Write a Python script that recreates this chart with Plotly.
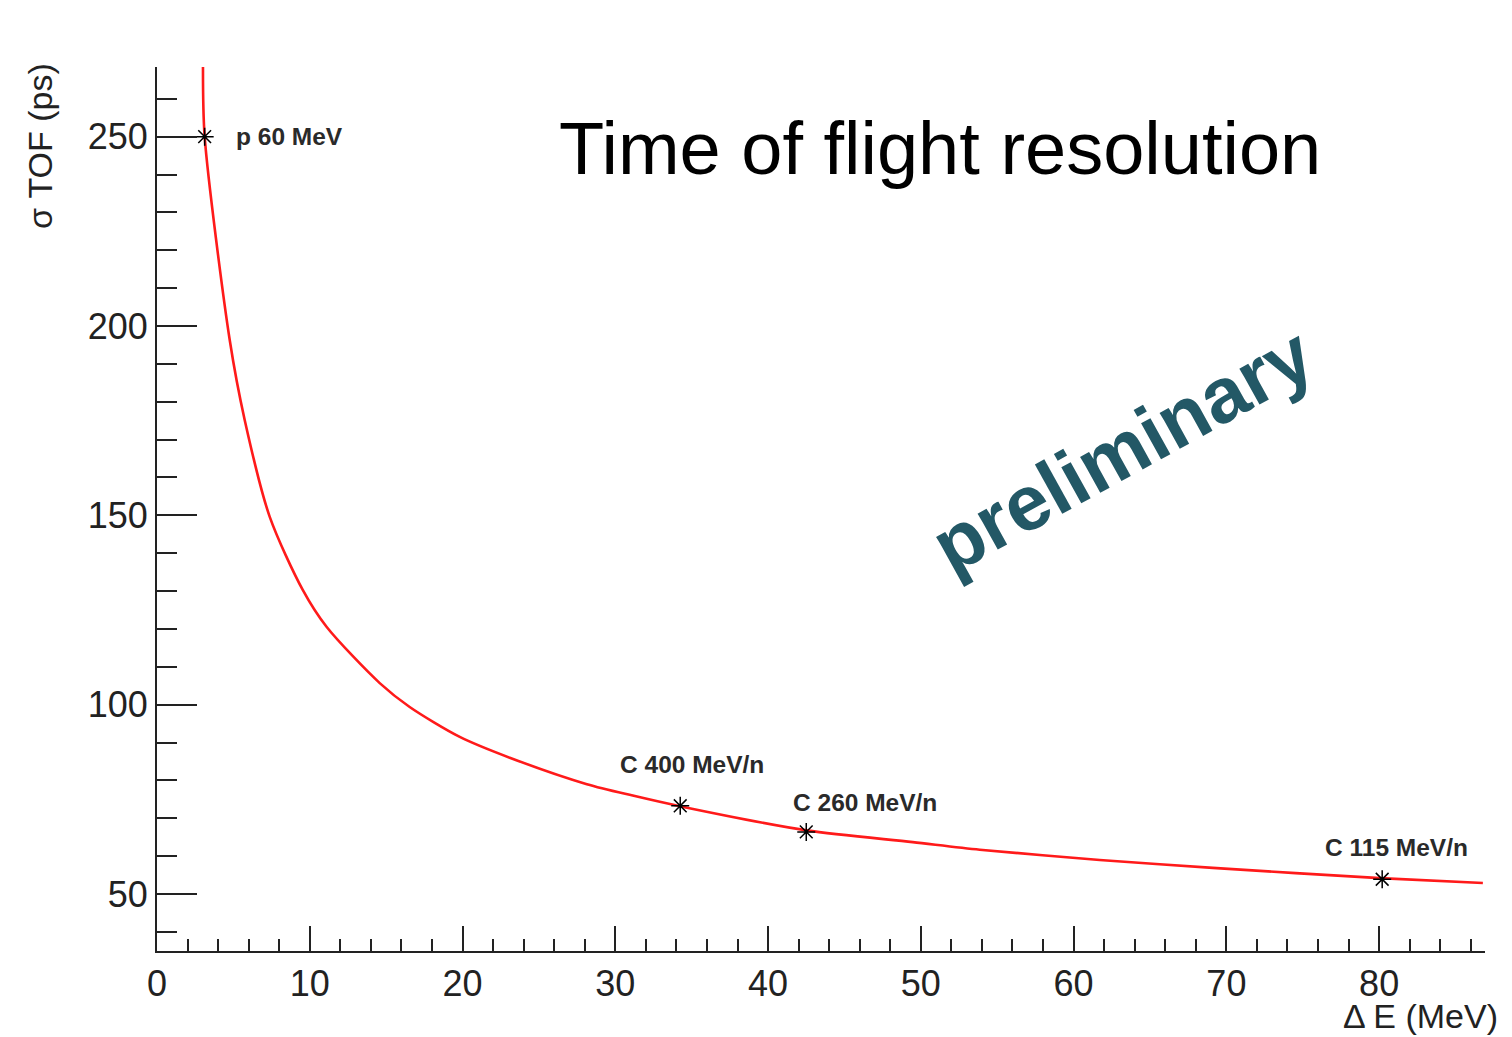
import plotly.graph_objects as go

# ---- data ----
curve_de = [3.01, 3.12, 4.76, 5.74, 7.38, 9.54, 11.11, 14.58, 16.54,
            19.82, 23.09, 28.14, 31.14, 34.22, 42.53, 49.47, 53.86, 61.71, 69.11,
            80.05, 86.79]
curve_sigma = [268.5, 250.0, 196.3, 175.2, 149.6, 130.3, 120.5, 105.7,
               99.4, 91.5, 86.0, 79.0, 76.0, 73.2, 66.8, 63.7, 61.7, 59.0, 56.9,
               54.2, 52.9]

point_de = [3.12, 34.25, 42.5, 80.2]
point_sigma = [250.0, 73.3, 66.4, 53.9]
point_labels = ["p 60 MeV", "C 400 MeV/n", "C 260 MeV/n", "C 115 MeV/n"]

x_range = [0, 86.93]
y_range = [34.95, 268.4]

# ---- layout geometry (pixels) ----
W, H = 1512, 1037
L, R, T, B = 157, 27, 67, 86
PW, PH = W - L - R, H - T - B


def px(xp):
    return (xp - L) / PW


def py(yp):
    return (H - B - yp) / PH


FONT = "Liberation Sans, Arial, Helvetica, sans-serif"
AX = "#222222"

fig = go.Figure()
fig.add_trace(go.Scatter(
    x=curve_de, y=curve_sigma, mode="lines",
    line=dict(color="#ff1a1a", width=2.6, shape="spline", smoothing=0.8),
    hoverinfo="skip"))
fig.add_trace(go.Scatter(
    x=point_de, y=point_sigma, mode="markers",
    marker=dict(symbol="asterisk-open", size=15, color="black",
                line=dict(color="black", width=1.5))))

# label offsets (px) relative to each marker
label_shift = [(29, 0), (-62, 41), (-15, 29), (-59, 32)]
for xv, yv, txt, (dx, dy) in zip(point_de, point_sigma, point_labels, label_shift):
    fig.add_annotation(x=xv, y=yv, xref="x", yref="y", text=f"<b>{txt}</b>",
                       showarrow=False, xanchor="left", yanchor="middle",
                       xshift=dx, yshift=dy,
                       font=dict(family=FONT, size=24.5, color="#2a2a2a"))

# axis titles
fig.add_annotation(x=px(40), y=py(146), xref="paper", yref="paper",
                   text="σ TOF (ps)", textangle=-90, showarrow=False,
                   xanchor="center", yanchor="middle",
                   font=dict(family=FONT, size=34, color=AX))
fig.add_annotation(x=px(1500), y=py(1016), xref="paper", yref="paper",
                   text="Δ E (MeV)", showarrow=False,
                   xanchor="right", yanchor="middle",
                   font=dict(family=FONT, size=34, color=AX))
# title
fig.add_annotation(x=px(557), y=py(148), xref="paper", yref="paper",
                   text="Time of flight resolution", showarrow=False,
                   xanchor="left", yanchor="middle",
                   font=dict(family=FONT, size=74, color="black"))
# watermark
fig.add_annotation(x=px(1122), y=py(450), xref="paper", yref="paper",
                   text="<b>preliminary</b>", textangle=-29, showarrow=False,
                   xanchor="center", yanchor="middle",
                   font=dict(family=FONT, size=78, color="#235866"))

fig.update_xaxes(range=x_range, showline=True, linecolor=AX, linewidth=2,
                 ticks="inside", ticklen=25, tickwidth=2, tickcolor=AX,
                 tick0=0, dtick=10,
                 minor=dict(ticks="inside", ticklen=12, tickwidth=2,
                            tickcolor=AX, dtick=2, tick0=0),
                 showgrid=False, zeroline=False,
                 tickfont=dict(family=FONT, size=36, color=AX))
fig.update_yaxes(range=y_range, showline=True, linecolor=AX, linewidth=2,
                 ticks="inside", ticklen=40, tickwidth=2, tickcolor=AX,
                 tick0=0, dtick=50,
                 minor=dict(ticks="inside", ticklen=20, tickwidth=2,
                            tickcolor=AX, dtick=10, tick0=0),
                 showgrid=False, zeroline=False,
                 tickfont=dict(family=FONT, size=36, color=AX))

fig.update_layout(width=W, height=H, margin=dict(l=L, r=R, t=T, b=B),
                  plot_bgcolor="white", paper_bgcolor="white",
                  showlegend=False)

fig.write_html("out.html")
